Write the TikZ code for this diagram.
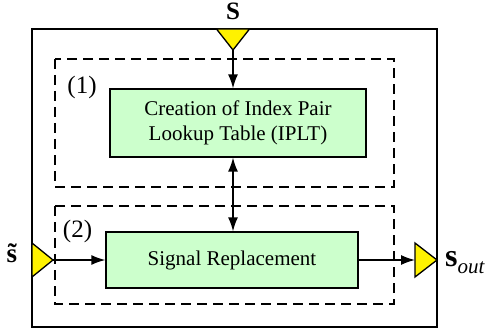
\documentclass[tikz,border=0pt]{standalone}
\usepackage{fontspec}
\setmainfont{Liberation Serif}
\usetikzlibrary{arrows.meta,positioning}
\definecolor{lightgreen}{rgb}{0.8,1,0.8}

\begin{document}
\begin{tikzpicture}[x=1pt,y=-1pt,>={Latex[length=14pt,width=10pt]}]
\tikzstyle{block}=[draw=black,fill=lightgreen,line width=1.3pt,align=center,font=\fontsize{21}{25}\selectfont,inner sep=0pt]
\tikzstyle{port}=[draw=black,fill=yellow,line width=1.3pt,line join=miter]
\tikzstyle{group}=[dash pattern=on 10pt off 6pt,line width=1.4pt]
\tikzstyle{label}=[anchor=base,inner sep=0pt,font=\fontsize{25}{25}\selectfont]
\tikzstyle{arrow}=[line width=1.4pt,->]
\tikzstyle{dblarrow}=[line width=1.4pt,<->]
\useasboundingbox (0,0) rectangle (487,334);
\draw [line width=1.6pt] (32,29) rectangle (437,327);
\draw [group] (55,59) rectangle (394,187);
\draw [group] (55,206) rectangle (394,304);
\node [label] at (82,94) (lab1) {(1)};
\node [label] at (77.5,237) (lab2) {(2)};
\node [block,minimum width=256pt,minimum height=68pt] at (238,123) (iplt) {Creation of Index Pair\\Lookup Table (IPLT)};
\node [block,minimum width=252pt,minimum height=56pt] at (232,260) (repl) {Signal Replacement};
\coordinate (sin) at (233,50);
\coordinate (tin) at (53,260);
\coordinate (tout) at (415,260);
\filldraw [port] (216.5,29) -- (249.5,29) -- (sin) -- cycle;
\filldraw [port] (32,243) -- (tin) -- (32,277) -- cycle;
\filldraw [port] (415,243) -- (437,260) -- (415,277) -- cycle;
\node [label,font=\bfseries\fontsize{25}{25}\selectfont] at (233,20) (sig) {S};
\node [label,font=\bfseries\fontsize{27}{27}\selectfont] at (12,262) (sigt) {\~{s}};
\node [label,anchor=base west] at (445,266) (sigout) {\fontsize{32}{32}\selectfont\textbf{s}\raisebox{-7pt}{\fontsize{21}{21}\selectfont\textit{out}}};
\draw [arrow] (sin) -- (sin |- iplt.north);
\draw [dblarrow] (iplt.south -| sin) -- (repl.north -| sin);
\draw [arrow] (tin) -- (repl.west);
\draw [arrow] (repl.east) -- (tout);
\end{tikzpicture}
\end{document}
